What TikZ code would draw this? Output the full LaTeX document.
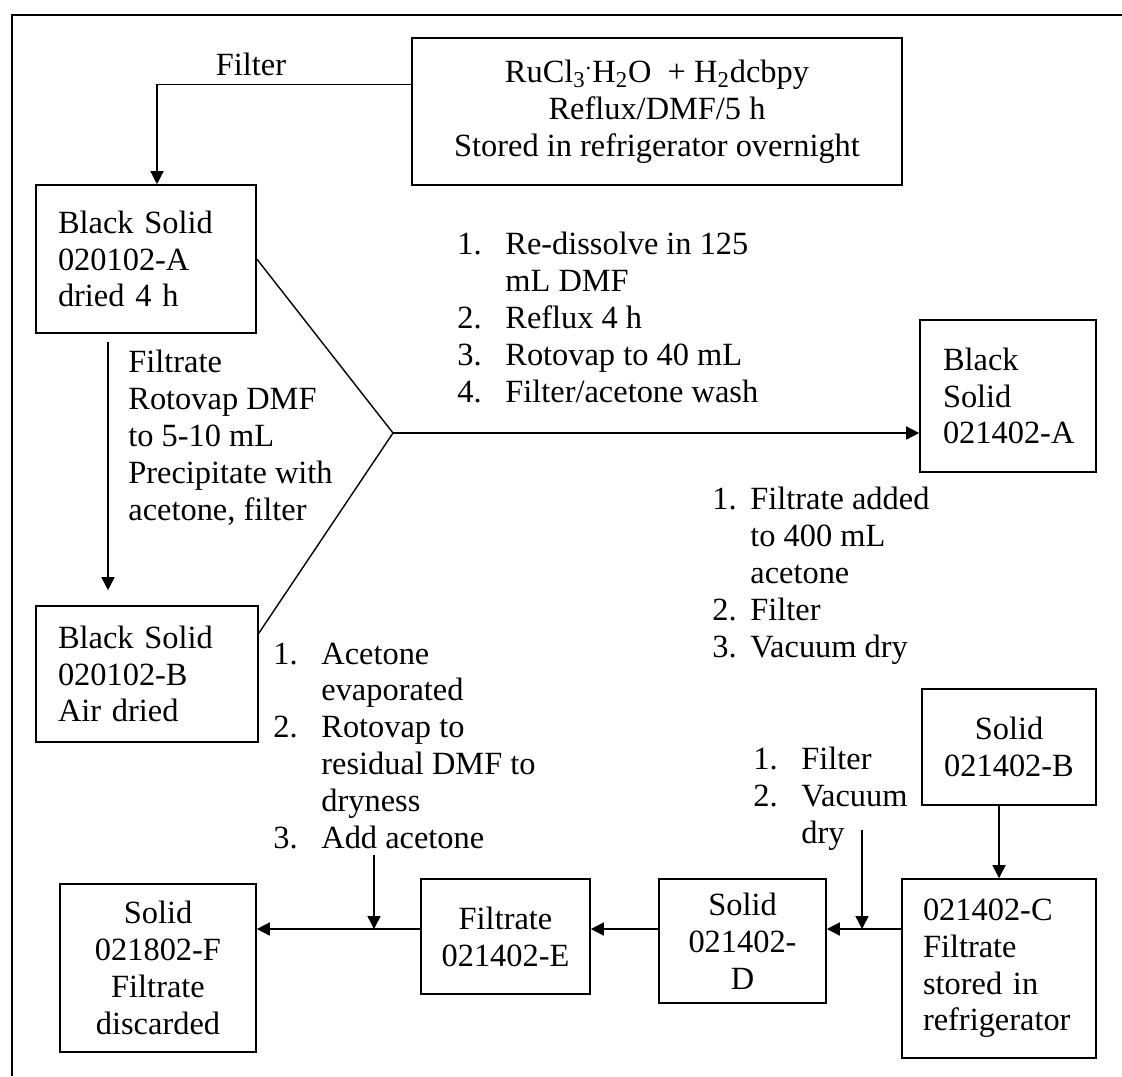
\documentclass[tikz,border=0pt]{standalone}
\usepackage{fontspec}
\setmainfont{Liberation Serif}
\usetikzlibrary{arrows.meta,calc}

\newcommand{\stepno}[2][24pt]{\makebox[#1][l]{#2}}

\begin{document}
\begin{tikzpicture}[x=0.5pt,y=-0.5pt,
  font=\fontsize{16.2}{18.4}\selectfont,
  box/.style={draw,line width=0.8pt,inner ysep=0pt},
  lbox/.style={box,align=left,inner xsep=11pt},
  cbox/.style={box,align=center,inner xsep=0pt},
  note/.style={align=left,anchor=base west,inner sep=0pt},
  flow/.style={line width=0.7pt,-{Triangle[length=6.5pt,width=6.5pt]}}
]
  \useasboundingbox (0,0) rectangle (1122,1076);
  \draw[line width=0.6pt] (12,1076) -- (12,15) -- (1122,15);

  % boxes
  \node[cbox,minimum width=245pt,minimum height=73.5pt] (start) at (657,111.5)
    {RuCl\textsubscript{3}\textsuperscript{.}H\textsubscript{2}O\ \ + H\textsubscript{2}dcbpy\\Reflux/DMF/5 h\\Stored in refrigerator overnight};
  \node[lbox,text width=88pt,minimum height=74pt] (s20A) at (146,259) {Black Solid\\020102-A\\dried 4 h};
  \node[lbox,text width=89pt,minimum height=68pt] (s20B) at (147,674) {Black Solid\\020102-B\\Air dried};
  \node[lbox,inner xsep=11.5pt,text width=65pt,minimum height=76pt] (s14A) at (1008,396) {Black\\Solid\\\mbox{021402-A}};
  \node[cbox,minimum width=87pt,minimum height=58pt] (s14B) at (1009,747) {Solid\\021402-B};
  \node[lbox,inner xsep=10.5pt,text width=76pt,minimum height=89.5pt] (s14C) at (999,968.5) {021402-C\\Filtrate\\stored in\\refrigerator};
  \node[cbox,minimum width=83.5pt,minimum height=62pt] (s14D) at (742.5,941) {Solid\\021402-\\D};
  \node[cbox,minimum width=84.5pt,minimum height=57.5pt] (s14E) at (505.5,936.5) {Filtrate\\021402-E};
  \node[cbox,minimum width=98pt,minimum height=84pt] (s18F) at (158,968) {Solid\\021802-F\\Filtrate\\discarded};

  % step notes (placed at the baseline of their last line)
  \node[anchor=base] (filt) at (251,75) {Filter};
  \node[note] (filtrate) at (128,520) {Filtrate\\Rotovap DMF\\to 5-10 mL\\Precipitate with\\acetone, filter};
  \node[note] (steps1) at (457,402) {\stepno{1.}Re-dissolve in 125\\\hspace*{24pt}mL DMF\\\stepno{2.}Reflux 4 h\\\stepno{3.}Rotovap to 40 mL\\\stepno{4.}Filter/acetone wash};
  \node[note] (steps2) at (712,657) {\stepno[19pt]{1.}Filtrate added\\\hspace*{19pt}to 400 mL\\\hspace*{19pt}acetone\\\stepno[19pt]{2.}Filter\\\stepno[19pt]{3.}Vacuum dry};
  \node[note] (steps3) at (273,848) {\stepno{1.}Acetone\\\hspace*{24pt}evaporated\\\stepno{2.}Rotovap to\\\hspace*{24pt}residual DMF to\\\hspace*{24pt}dryness\\\stepno{3.}Add acetone};
  \node[note] (steps4) at (753,843) {\stepno{1.}Filter\\\stepno{2.}Vacuum\\\hspace*{24pt}dry};

  \coordinate (jn) at (393,433);
  \coordinate (row) at (0,929);
  \coordinate (dryin) at (862,830);
  \coordinate (acein) at (374,855);

  % connectors
  \draw[flow] ([yshift=-23.5pt]start.north west) -| ([xshift=5.5pt]s20A.north);
  \draw[flow] ([xshift=-19pt,yshift=-4pt]s20A.south) -- ([xshift=-19.5pt,yshift=7.5pt]s20B.north);
  \draw[line width=0.7pt] (s20A.east) -- (jn) -- ([yshift=-14pt]s20B.north east);
  \draw[flow] (jn) -- (jn -| s14A.west);
  \draw[flow] (s14B.south -| s14C.north) -- (s14C.north);
  \draw[flow] (s14C.west |- row) -- (s14D.east |- row);
  \draw[flow] (dryin) -- (dryin |- row);
  \draw[flow] (s14D.west |- row) -- (s14E.east |- row);
  \draw[flow] (s14E.west |- row) -- (s18F.east |- row);
  \draw[flow] (acein) -- (acein |- row);
\end{tikzpicture}
\end{document}
